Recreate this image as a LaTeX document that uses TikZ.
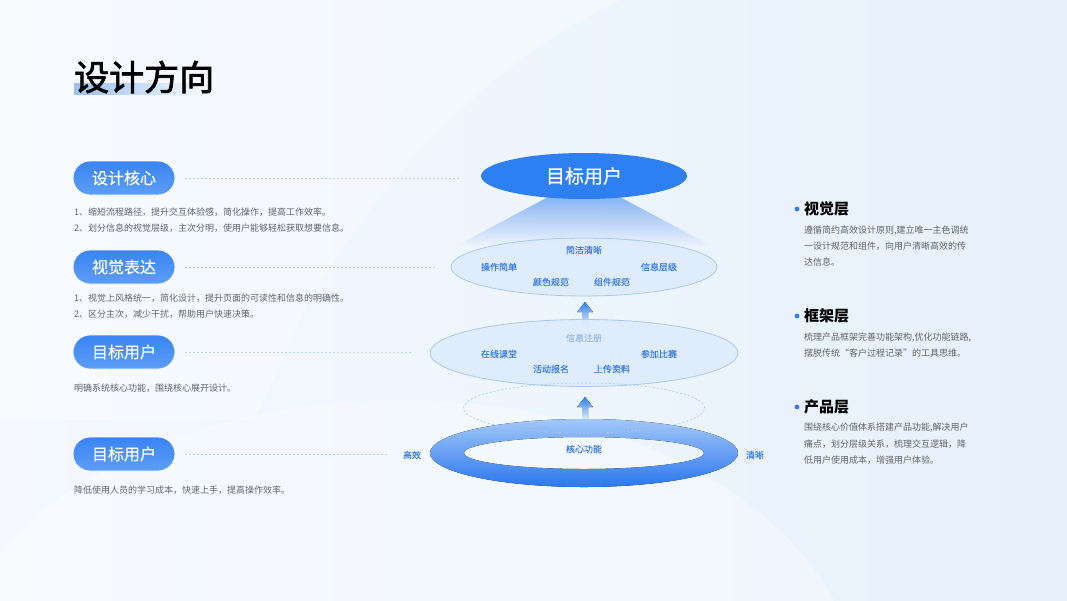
\documentclass[tikz,border=0pt]{standalone}
\usepackage{fontspec}
\setmainfont{Noto Sans CJK SC}
\newfontfamily\medfont{Noto Sans CJK SC}[FakeBold=0.35]
\newfontfamily\titfont{Noto Sans CJK SC}[FakeBold=2]
\usetikzlibrary{shapes.geometric,fadings}
\definecolor{bgL}{HTML}{F5F9FE}
\definecolor{bgR}{HTML}{E6F1FC}
\definecolor{pillT}{HTML}{3A84F3}
\definecolor{pillB}{HTML}{5C9DF7}
\definecolor{dotc}{HTML}{BCD3F2}
\definecolor{txtg}{HTML}{62666D}
\definecolor{lab}{HTML}{3F80E8}
\definecolor{labl}{HTML}{9DBCE9}
\definecolor{mainb}{HTML}{2E7FF1}
\definecolor{ellf}{HTML}{DDEBFC}
\definecolor{elld}{HTML}{A9C8F3}
\definecolor{ringT}{HTML}{A3C7F8}
\definecolor{ringB}{HTML}{2A77EE}
\definecolor{coneT}{HTML}{86B3F3}
\definecolor{coneB}{HTML}{EDF4FD}
\definecolor{hlL}{HTML}{9BC0F4}
\definecolor{hlR}{HTML}{F3F8FE}
\begin{document}
\begin{tikzpicture}[x=1pt,y=-1pt,
  pill/.style={draw=white, line width=0.8pt, rounded corners=17pt, top color=pillT, bottom color=pillB,
    minimum width=102pt, minimum height=34pt, inner sep=0pt, text=white, font=\medfont\fontsize{16}{16}\selectfont},
  desc/.style={anchor=west, inner sep=0pt, text=txtg, font=\fontsize{9}{9}\selectfont},
  lbl/.style={inner sep=0pt, text=lab, font=\medfont\fontsize{9}{9}\selectfont},
  head/.style={anchor=west, inner sep=0pt, text=black, font=\fontsize{15}{15}\selectfont\bfseries},
  dotline/.style={dotc, line width=0.8pt, dash pattern=on 1.2pt off 2.8pt},
  layer/.style={ellipse, draw=elld, line width=0.8pt, fill=ellf, fill opacity=0.85, inner sep=0pt},
  uparrow/.style={top color=mainb, bottom color=coneB, draw=none}
]
\useasboundingbox (0,0) rectangle (1067,600);
% background
\fill[left color=bgL, right color=bgR] (0,0) rectangle (1067,600);
\fill[white, opacity=0.3] (0,0) -- (620,0) .. controls (500,60) and (400,150) .. (310,300) -- (255,420) -- (0,420) -- cycle;
\fill[white, opacity=0.3] (400,700) ellipse [x radius=460, y radius=300];

% title
\fill[left color=hlL, right color=hlR] (74,83) rectangle (203,94);
\node[anchor=west, inner sep=0pt, font=\titfont\fontsize{35}{35}\selectfont] (title) at (74,77) {设计方向};

% left pills
\node[pill] (p1) at (124,178) {设计核心};
\node[pill] (p2) at (124,267) {视觉表达};
\node[pill] (p3) at (124,352) {目标用户};
\node[pill] (p4) at (124,454) {目标用户};

\coordinate (e1) at (460,178);
\coordinate (e2) at (437,267);
\coordinate (e3) at (412,352);
\coordinate (e4) at (387,454);
\draw[dotline] ([xshift=10pt]p1.east) -- (e1);
\draw[dotline] ([xshift=10pt]p2.east) -- (e2);
\draw[dotline] ([xshift=10pt]p3.east) -- (e3);
\draw[dotline] ([xshift=10pt]p4.east) -- (e4);

\node[desc] (d1a) at (74,212) {1、缩短流程路径，提升交互体验感，简化操作，提高工作效率。};
\node[desc] (d1b) at (74,228) {2、划分信息的视觉层级，主次分明，使用户能够轻松获取想要信息。};
\node[desc] (d2a) at (74,298) {1、视觉上风格统一，简化设计，提升页面的可读性和信息的明确性。};
\node[desc] (d2b) at (74,314) {2、区分主次，减少干扰，帮助用户快速决策。};
\node[desc] (d3a) at (74,388) {明确系统核心功能，围绕核心展开设计。};
\node[desc] (d4a) at (74,490) {降低使用人员的学习成本，快速上手，提高操作效率。};

% center diagram
\fill[coneT, path fading=south] (550,196) -- (618,196) -- (712,246) -- (456,246) -- cycle;
\node[ellipse, fill=mainb, minimum width=206pt, minimum height=46pt, inner sep=0pt, text=white,
  font=\medfont\fontsize{19}{19}\selectfont] (top) at (584,176) {目标用户};

\node[layer, minimum width=266pt, minimum height=58pt] (L2) at (584,267) {};
\node[lbl] (t21) at (584,250) {简洁清晰};
\node[lbl] (t22) at (499,267) {操作简单};
\node[lbl] (t23) at (659,267) {信息层级};
\node[lbl] (t24) at (551,282) {颜色规范};
\node[lbl] (t25) at (612,282) {组件规范};

% arrow 1
\coordinate (a1) at (585,302);
\fill[uparrow] (a1) -- ++(8,10) -- ++(-5,0) -- ++(0,14) -- ++(-6,0) -- ++(0,-14) -- ++(-5,0) -- cycle;

\node[layer, minimum width=308pt, minimum height=67pt] (L3) at (584,353) {};
\node[lbl, text=labl] (t31) at (584,338) {信息注册};
\node[lbl] (t32) at (499,354) {在线课堂};
\node[lbl] (t33) at (659,354) {参加比赛};
\node[lbl] (t34) at (551,369) {活动报名};
\node[lbl] (t35) at (612,369) {上传资料};

% arrow 2
\coordinate (a2) at (585,397);
\fill[uparrow] (a2) -- ++(8,10) -- ++(-5,0) -- ++(0,14) -- ++(-6,0) -- ++(0,-14) -- ++(-5,0) -- cycle;

% ring
\fill[top color=ringT, bottom color=ringB, even odd rule]
  (584,453) ellipse [x radius=154, y radius=34]
  (584,453) ellipse [x radius=120, y radius=16];
\node[ellipse, draw=elld, line width=0.6pt, dash pattern=on 2pt off 2pt,
  minimum width=241pt, minimum height=50pt] (L4) at (584,408) {};
\node[lbl] (core) at (584,449) {核心功能};
\node[lbl] (gx) at (412,455) {高效};
\node[lbl] (qx) at (755,455) {清晰};

% right column
\fill[mainb] (797,209) circle (2.4);
\node[head] (h1) at (804,209) {视觉层};
\node[desc] (r1a) at (804,231) {遵循简约高效设计原则,建立唯一主色调统};
\node[desc] (r1b) at (804,246.5) {一设计规范和组件，向用户清晰高效的传};
\node[desc] (r1c) at (804,262) {达信息。};

\fill[mainb] (797,316) circle (2.4);
\node[head] (h2) at (804,316) {框架层};
\node[desc] (r2a) at (804,338) {梳理产品框架完善功能架构,优化功能链路,};
\node[desc] (r2b) at (804,353.5) {摆脱传统“客户过程记录”的工具思维。};

\fill[mainb] (797,407) circle (2.4);
\node[head] (h3) at (804,407) {产品层};
\node[desc] (r3a) at (804,428) {围绕核心价值体系搭建产品功能,解决用户};
\node[desc] (r3b) at (804,444) {痛点，划分层级关系，梳理交互逻辑，降};
\node[desc] (r3c) at (804,460) {低用户使用成本，增强用户体验。};
\end{tikzpicture}
\end{document}
